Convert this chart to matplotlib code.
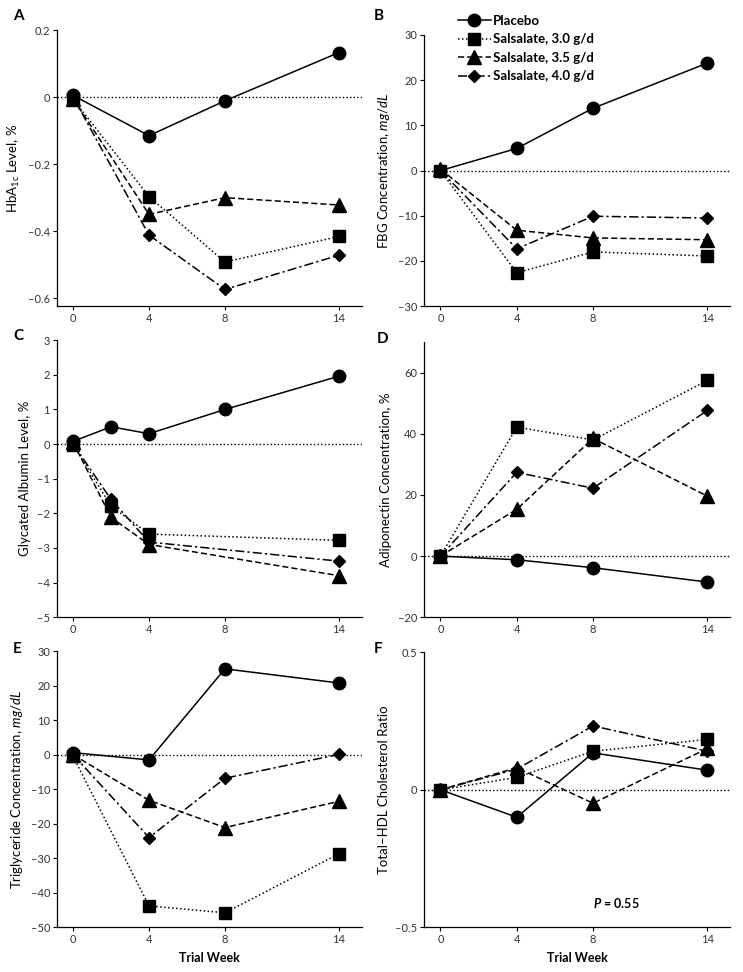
import matplotlib
matplotlib.use("Agg")
import matplotlib.pyplot as plt

plt.rcParams['font.family'] = ['Lato', 'DejaVu Sans']
plt.rcParams['mathtext.fontset'] = 'custom'
plt.rcParams['mathtext.rm'] = 'Lato'
plt.rcParams['mathtext.it'] = 'Lato:italic'
plt.rcParams['mathtext.bf'] = 'Lato:bold:italic'

# weeks of measurement
weeks = [0, 4, 8, 14]
weeks_ga_placebo = [0, 2, 4, 8, 14]
weeks_ga_sals = [0, 2, 4, 14]

# A: HbA1c level, %
hba1c_placebo = [0.005, -0.115, -0.011, 0.133]
hba1c_30 = [-0.006, -0.297, -0.492, -0.416]
hba1c_35 = [-0.005, -0.35, -0.30, -0.322]
hba1c_40 = [0.0, -0.412, -0.574, -0.472]

# B: FBG concentration, mg/dL
fbg_placebo = [0.0, 4.9, 13.8, 23.8]
fbg_30 = [0.0, -22.6, -18.0, -18.9]
fbg_35 = [0.3, -13.2, -14.9, -15.3]
fbg_40 = [0.0, -17.3, -10.1, -10.5]

# C: glycated albumin level, %
ga_placebo = [0.08, 0.5, 0.3, 1.0, 1.96]
ga_30 = [-0.02, -1.79, -2.6, -2.78]
ga_35 = [0.05, -2.12, -2.9, -3.8]
ga_40 = [0.0, -1.6, -2.83, -3.38]

# D: adiponectin concentration, %
adipo_placebo = [0.0, -1.2, -3.8, -8.5]
adipo_30 = [0.0, 42.2, 38.0, 57.5]
adipo_35 = [0.0, 15.3, 38.5, 19.6]
adipo_40 = [0.0, 27.4, 22.2, 47.7]

# E: triglyceride concentration, mg/dL
tg_placebo = [0.6, -1.5, 24.9, 20.8]
tg_30 = [-0.5, -43.8, -45.8, -28.7]
tg_35 = [0.0, -13.2, -21.1, -13.5]
tg_40 = [0.0, -24.0, -6.8, 0.1]

# F: total-HDL cholesterol ratio
chol_placebo = [0.0, -0.10, 0.134, 0.071]
chol_30 = [0.0, 0.045, 0.14, 0.183]
chol_35 = [0.0, 0.08, -0.049, 0.15]
chol_40 = [0.0, 0.075, 0.232, 0.14]

labels = ["Placebo", "Salsalate, 3.0 g/d", "Salsalate, 3.5 g/d", "Salsalate, 4.0 g/d"]

dotted = (0, (1, 1.6))
styles = [
    dict(ls='-', marker='o', ms=9),
    dict(ls=dotted, marker='s', ms=8),
    dict(ls=(0, (4, 2)), marker='^', ms=9.5),
    dict(ls=(0, (6, 2, 1.5, 2)), marker='D', ms=6),
]


def plot_series(ax, xs_list, ys_list):
    handles = []
    for xs, ys, st, lab in zip(xs_list, ys_list, styles, labels):
        h, = ax.plot(xs, ys, color='black', lw=1.1, mfc='black', mec='black',
                     label=lab, zorder=3, clip_on=False, **st)
        handles.append(h)
    return handles


def setup(ax, ylim, yticks, yticklabels, ylabel, xlabel=False):
    ax.set_xlim(-0.85, 15.2)
    ax.set_ylim(*ylim)
    ax.set_xticks(weeks)
    ax.set_xticklabels([str(w) for w in weeks])
    ax.set_yticks(yticks)
    ax.set_yticklabels(yticklabels)
    ax.spines['top'].set_visible(False)
    ax.spines['right'].set_visible(False)
    ax.spines['left'].set_linewidth(0.9)
    ax.spines['bottom'].set_linewidth(0.9)
    ax.axhline(0, color='black', lw=1, ls=dotted, zorder=1)
    ax.tick_params(length=3, width=0.8, labelsize=8, labelcolor='#333333', pad=2)
    ax.set_ylabel(ylabel, fontsize=9.5, labelpad=4)
    if xlabel:
        ax.set_xlabel("Trial Week", fontsize=9, fontweight='bold', labelpad=5)


fig = plt.figure(figsize=(7.43, 9.72), dpi=100)
axA = fig.add_axes([0.0767, 0.685, 0.410, 0.284])
axB = fig.add_axes([0.571, 0.685, 0.412, 0.279])
axC = fig.add_axes([0.0767, 0.365, 0.410, 0.285])
axD = fig.add_axes([0.571, 0.365, 0.412, 0.283])
axE = fig.add_axes([0.0767, 0.046, 0.410, 0.284])
axF = fig.add_axes([0.571, 0.046, 0.412, 0.283])

# panel letters (figure pixel positions of their top-left corners)
for letter, px, py in [("A", 13, 9), ("B", 374, 9), ("C", 13, 329),
                       ("D", 377, 332), ("E", 13, 642), ("F", 374, 642)]:
    fig.text(px / 743, 1 - py / 972, letter, fontsize=11, fontweight='bold',
             ha='left', va='top')

plot_series(axA, [weeks] * 4, [hba1c_placebo, hba1c_30, hba1c_35, hba1c_40])
setup(axA, (-0.624, 0.2), [0.2, 0, -0.2, -0.4, -0.6],
      ["0.2", "0", "\u20130.2", "\u20130.4", "\u20130.6"],
      "HbA$_{\\mathrm{1c}}$ Level, %")

hB = plot_series(axB, [weeks] * 4, [fbg_placebo, fbg_30, fbg_35, fbg_40])
setup(axB, (-30, 30), [30, 20, 10, 0, -10, -20, -30],
      ["30", "20", "10", "0", "\u201310", "\u201320", "\u201330"],
      "FBG Concentration, $mg/dL$")
fig.legend(handles=hB, loc='upper left', bbox_to_anchor=(0.616, 0.985),
           frameon=False, handlelength=2.5, handletextpad=0.2,
           labelspacing=0.5, borderpad=0, borderaxespad=0, numpoints=1,
           prop={'weight': 'bold', 'size': 9.5})

plot_series(axC, [weeks_ga_placebo] + [weeks_ga_sals] * 3,
            [ga_placebo, ga_30, ga_35, ga_40])
setup(axC, (-5, 3), [3, 2, 1, 0, -1, -2, -3, -4, -5],
      ["3", "2", "1", "0", "\u20131", "\u20132", "\u20133", "\u20134", "\u20135"],
      "Glycated Albumin Level, %")

plot_series(axD, [weeks] * 4, [adipo_placebo, adipo_30, adipo_35, adipo_40])
setup(axD, (-20, 70), [60, 40, 20, 0, -20],
      ["60", "40", "20", "0", "\u201320"],
      "Adiponectin Concentration, %")

plot_series(axE, [weeks] * 4, [tg_placebo, tg_30, tg_35, tg_40])
setup(axE, (-50, 30), [30, 20, 10, 0, -10, -20, -30, -40, -50],
      ["30", "20", "10", "0", "\u201310", "\u201320", "\u201330", "\u201340", "\u201350"],
      "Triglyceride Concentration, $mg/dL$", xlabel=True)

plot_series(axF, [weeks] * 4, [chol_placebo, chol_30, chol_35, chol_40])
setup(axF, (-0.5, 0.5), [0.5, 0, -0.5],
      ["0.5", "0", "\u20130.5"],
      "Total\u2013HDL Cholesterol Ratio", xlabel=True)
axF.text(9.2, -0.41, "$\\mathbf{P}$ = 0.55", fontsize=9, fontweight='bold',
         ha='center', va='center')

fig.savefig("out.png", dpi=100)
